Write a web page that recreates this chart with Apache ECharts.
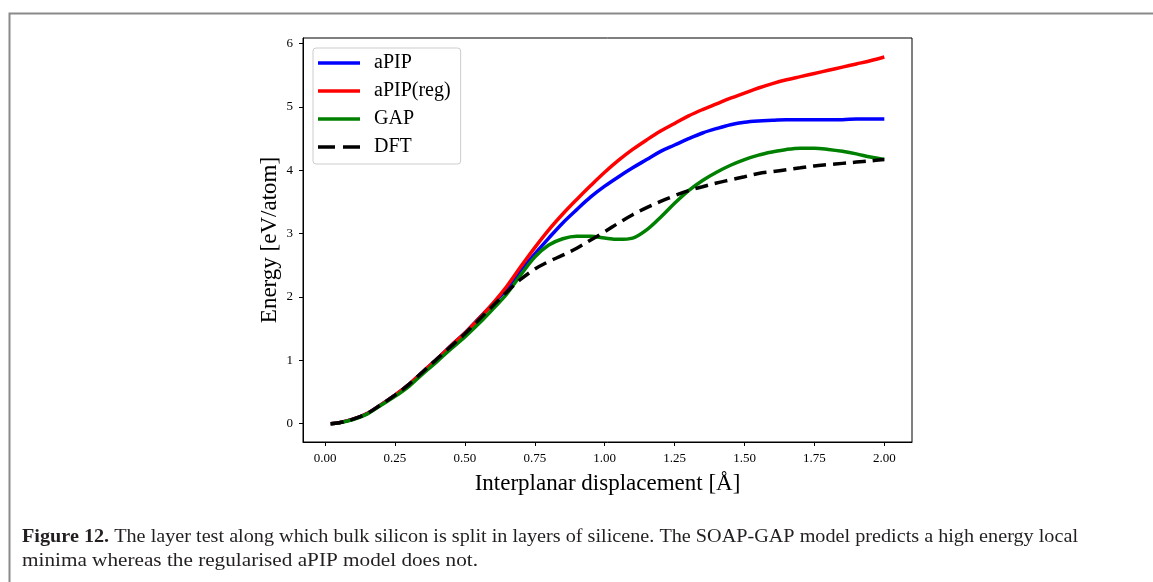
<!DOCTYPE html>
<html>
<head>
<meta charset="utf-8">
<script src="https://cdn.jsdelivr.net/npm/echarts@6/dist/echarts.min.js"></script>
<style>
html,body{margin:0;padding:0;background:#fff;}
#chart{width:1153px;height:582px;}
</style>
</head>
<body>
<div id="chart"></div>
<script>
// ---- data ----
var xs = [0.02,0.05,0.10,0.15,0.20,0.25,0.30,0.35,0.40,0.45,0.50,0.55,0.60,0.65,0.70,0.75,0.80,0.85,0.90,0.95,1.00,1.05,1.10,1.15,1.20,1.25,1.30,1.35,1.40,1.45,1.50,1.55,1.60,1.65,1.70,1.75,1.80,1.85,1.90,1.95,2.00];
var aPIP = [0.00,0.015,0.07,0.16,0.30,0.45,0.62,0.82,1.02,1.23,1.43,1.66,1.89,2.13,2.42,2.68,2.93,3.17,3.38,3.58,3.75,3.90,4.04,4.17,4.30,4.40,4.50,4.59,4.66,4.72,4.76,4.78,4.79,4.80,4.80,4.80,4.80,4.80,4.81,4.81,4.81];
var aPIPreg = [0.00,0.015,0.07,0.16,0.30,0.45,0.62,0.82,1.02,1.23,1.43,1.66,1.90,2.17,2.48,2.78,3.06,3.31,3.54,3.76,3.97,4.16,4.33,4.48,4.62,4.74,4.86,4.96,5.05,5.14,5.22,5.30,5.37,5.43,5.48,5.53,5.58,5.63,5.68,5.73,5.79];
var GAP = [0.00,0.012,0.065,0.15,0.29,0.43,0.59,0.79,0.98,1.18,1.37,1.58,1.81,2.05,2.35,2.63,2.82,2.92,2.96,2.96,2.93,2.91,2.93,3.06,3.26,3.48,3.68,3.84,3.97,4.08,4.17,4.24,4.29,4.33,4.35,4.35,4.33,4.30,4.26,4.21,4.17];
var DFT = [0.00,0.015,0.07,0.16,0.30,0.45,0.62,0.82,1.02,1.22,1.42,1.64,1.86,2.08,2.28,2.44,2.56,2.66,2.77,2.90,3.03,3.17,3.30,3.41,3.51,3.60,3.68,3.74,3.80,3.85,3.90,3.95,3.98,4.01,4.04,4.07,4.09,4.11,4.13,4.15,4.17];
var seriesNames = ['aPIP','aPIP(reg)','GAP','DFT'];
var xTicks = [0.00,0.25,0.50,0.75,1.00,1.25,1.50,1.75,2.00];
var yTicks = [0,1,2,3,4,5,6];
var xTitle = 'Interplanar displacement [Å]';
var yTitle = 'Energy [eV/atom]';
var captionBold = 'Figure 12.';
var captionLine1 = ' The layer test along which bulk silicon is split in layers of silicene. The SOAP-GAP model predicts a high energy local';
var captionLine2 = 'minima whereas the regularised aPIP model does not.';

function pairs(ys){ return xs.map(function(x,i){ return [x, ys[i]]; }); }

var SERIF = '"Liberation Serif", "DejaVu Serif", serif';
var CAPFONT = '"Liberation Serif", serif';

// measure caption to fit widths
var cv = document.createElement('canvas').getContext('2d');
function mw(txt, font){ cv.font = font; return cv.measureText(txt).width; }
var capSize = 18;
var w1 = mw(captionBold, 'bold ' + capSize + 'px "Liberation Serif"') + mw(captionLine1, capSize + 'px "Liberation Serif"');
var w2 = mw(captionLine2, capSize + 'px "Liberation Serif"');
var sx1 = 1056 / w1;
var sx2 = 456 / w2;

var chart = echarts.init(document.getElementById('chart'), null, {renderer:'canvas'});

var lineW = 3.5;
var colors = ['#0000ff','#ff0000','#008000','#000000'];
var datasets = [aPIP, aPIPreg, GAP, DFT];
var solidIcon = 'path://M0,0H42V3.5H0Z';
var dashIcon = 'path://M0,0H17V3.5H0Z M25,0H42V3.5H25Z';

var series = datasets.map(function(d,i){
  return {
    name: seriesNames[i],
    type: 'line',
    data: pairs(d),
    smooth: 0.35,
    symbol: 'none',
    showSymbol: false,
    animation: false,
    z: 2 + i,
    lineStyle: { color: colors[i], width: lineW, type: i === 3 ? [13, 7] : 'solid', cap: 'butt' },
    itemStyle: { color: colors[i] }
  };
});

var option = {
  animation: false,
  backgroundColor: '#ffffff',
  grid: { left: 303, top: 38, right: 241, bottom: 140, show: true, borderColor: '#000', borderWidth: 1, containLabel: false, backgroundColor: 'transparent' },
  legend: {
    orient: 'vertical',
    left: 313, top: 48,
    data: seriesNames.map(function(n,i){ return { name: n, icon: i === 3 ? dashIcon : solidIcon, itemStyle: { color: colors[i] } }; }),
    itemWidth: 42, itemHeight: 3.5, itemGap: 8,
    padding: [5, 10, 7, 5],
    backgroundColor: 'rgba(255,255,255,0.8)',
    borderColor: '#cccccc', borderWidth: 1, borderRadius: 3,
    textStyle: { fontFamily: SERIF, fontSize: 20, color: '#000', padding: [0,0,0,9] },
    selectedMode: false
  },
  xAxis: {
    type: 'value', min: -0.079, max: 2.099,
    name: xTitle, nameLocation: 'middle', nameGap: 30, nameMoveOverlap: false,
    nameTextStyle: { fontFamily: SERIF, fontSize: 23, color: '#000' },
    axisLine: { show: true, onZero: false, lineStyle: { color: '#000', width: 1 } },
    axisTick: { show: true, inside: false, length: 4, lineStyle: { color: '#000' }, customValues: xTicks },
    axisLabel: { fontFamily: SERIF, fontSize: 13, color: '#000', margin: 10, customValues: xTicks,
      formatter: function(v){ return v.toFixed(2); } },
    splitLine: { show: false }
  },
  yAxis: {
    type: 'value', min: -0.29, max: 6.09,
    name: yTitle, nameLocation: 'middle', nameGap: 22, nameRotate: 90, nameMoveOverlap: false,
    nameTextStyle: { fontFamily: SERIF, fontSize: 23, color: '#000' },
    axisLine: { show: true, onZero: false, lineStyle: { color: '#000', width: 1 } },
    axisTick: { show: true, inside: false, length: 4, lineStyle: { color: '#000' }, customValues: yTicks },
    axisLabel: { fontFamily: SERIF, fontSize: 13, color: '#000', margin: 10, customValues: yTicks,
      formatter: function(v){ return String(Math.round(v)); } },
    splitLine: { show: false }
  },
  graphic: [
    { type: 'rect', left: 7, top: 11, silent: true, z: -10,
      shape: { x: 0, y: 0, width: 1200, height: 640 },
      style: { fill: 'none', stroke: '#8a8a8a', lineWidth: 2 } },
    { type: 'text', x: 22, y: 537, scaleX: sx1, originX: 0, originY: 0,
      style: { text: '{b|' + captionBold + '}{n|' + captionLine1 + '}', verticalAlign: 'middle', fill: '#231f20',
        rich: { b: { fontFamily: CAPFONT, fontSize: capSize, fontWeight: 'bold', fill: '#231f20' },
                n: { fontFamily: CAPFONT, fontSize: capSize, fill: '#231f20' } } } },
    { type: 'text', x: 22, y: 561, scaleX: sx2, originX: 0, originY: 0,
      style: { text: captionLine2, verticalAlign: 'middle', fontFamily: CAPFONT, fontSize: capSize, fill: '#231f20' } }
  ],
  series: series
};
chart.setOption(option);
</script>
</body>
</html>
